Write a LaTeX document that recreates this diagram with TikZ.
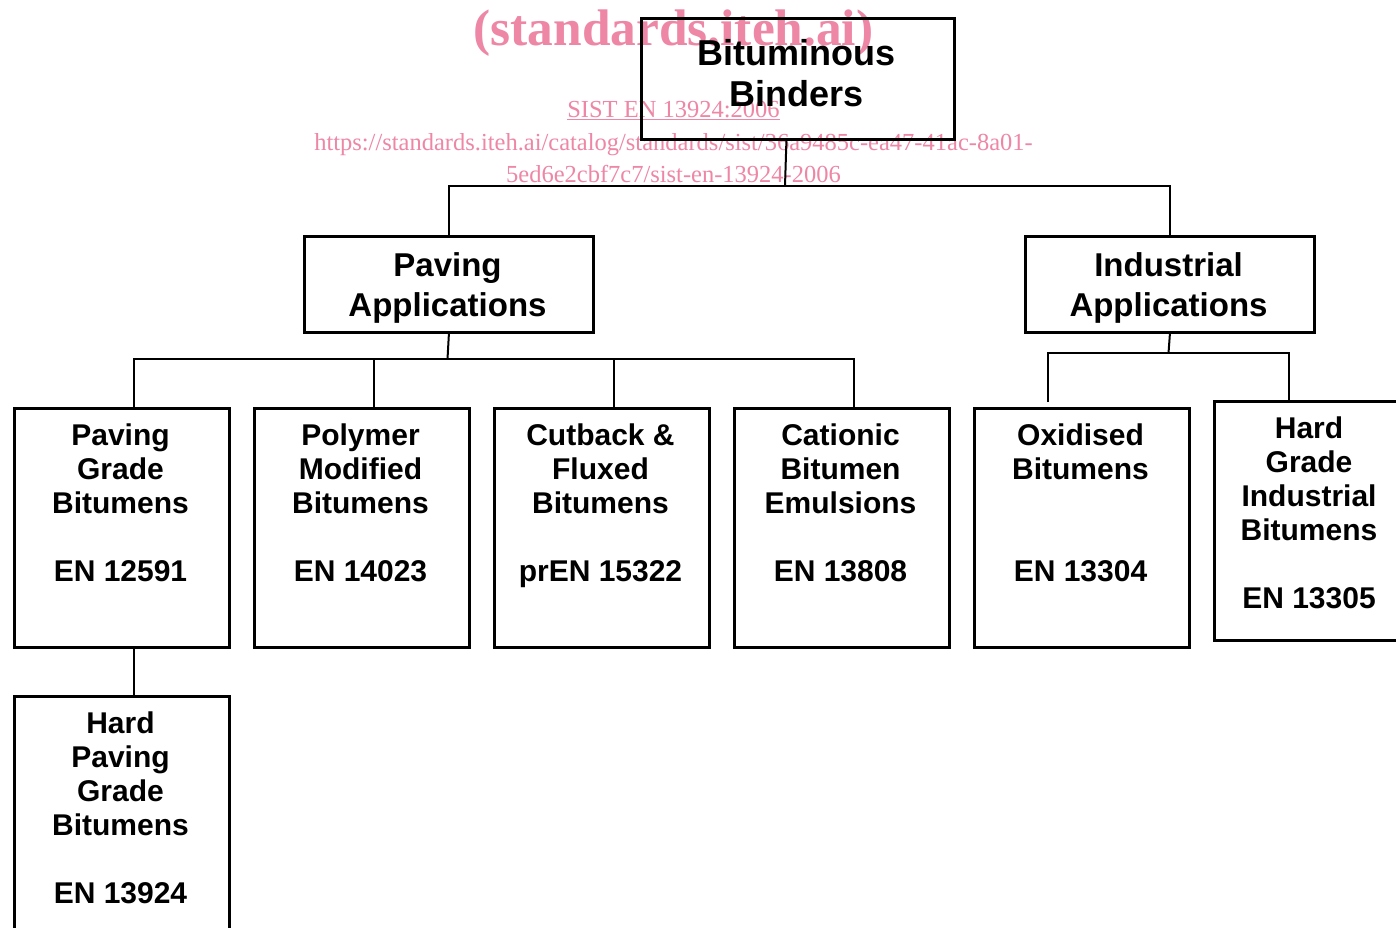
\documentclass[tikz,border=0pt]{standalone}
\usepackage{fontspec}
\usepackage{graphicx}
\setmainfont{Liberation Sans}
\newfontfamily\wmfont{Liberation Serif}
\usetikzlibrary{positioning}
\definecolor{wmpink}{RGB}{238,134,166}
\newcommand{\boxrows}[2]{\scalebox{#1}[1]{\begin{tabular}[t]{@{}c@{}}#2\end{tabular}}}

\begin{document}
\begin{tikzpicture}[x=1pt, y=-1pt,
    binbox/.style={draw, line width=2.8pt, inner sep=0pt, anchor=north west},
    wire/.style={draw, line width=2pt},
    headtext/.style={inner sep=0pt, anchor=base, font=\fontsize{36}{41}\selectfont\bfseries},
    apptext/.style={inner sep=0pt, anchor=base, font=\fontsize{33}{39.5}\selectfont\bfseries},
    leaftext/.style={inner sep=0pt, anchor=base, font=\fontsize{30}{34}\selectfont\bfseries},
    wmark/.style={inner sep=0pt, anchor=base, text=wmpink}]
    \useasboundingbox (0,0) rectangle (1396,927);
    \clip (0,0) rectangle (1396,927);
    \fill[white] (0,0) rectangle (1396,927);

    % Watermark
    \node[wmark, font=\wmfont\bfseries\fontsize{51.4}{60}\selectfont] (wm-title) at (673.5,45) {(standards.iteh.ai)};
    \node[wmark, font=\wmfont\fontsize{24.5}{30}\selectfont] (wm-code) at (673.5,117) {\underline{SIST EN 13924:2006}};
    \node[wmark, font=\wmfont\fontsize{24.5}{30}\selectfont] (wm-url1) at (673.5,150) {https://standards.iteh.ai/catalog/standards/sist/36a9485c-ea47-41ac-8a01-};
    \node[wmark, font=\wmfont\fontsize{24.5}{30}\selectfont] (wm-url2) at (673.5,182) {5ed6e2cbf7c7/sist-en-13924-2006};

    % Boxes
    \node[binbox, minimum width=313pt, minimum height=121pt] (bind) at (640,17) {};
    \node[binbox, minimum width=289pt, minimum height=96pt] (pave) at (303,235) {};
    \node[binbox, minimum width=289pt, minimum height=96pt] (indu) at (1024,235) {};
    \node[binbox, minimum width=215pt, minimum height=239pt] (pgb) at (13,407) {};
    \node[binbox, minimum width=215pt, minimum height=239pt] (pmb) at (253,407) {};
    \node[binbox, minimum width=215pt, minimum height=239pt] (cfb) at (493,407) {};
    \node[binbox, minimum width=215pt, minimum height=239pt] (cbe) at (733,407) {};
    \node[binbox, minimum width=215pt, minimum height=239pt] (oxb) at (973,407) {};
    \node[binbox, minimum width=215pt, minimum height=239pt] (hib) at (1213,400) {};
    \node[binbox, minimum width=215pt, minimum height=260pt] (hpb) at (13,695) {};

    % Box texts
    \node[headtext] (bind-t) at (796.5,65) {\boxrows{1}{Bituminous\\Binders}};
    \node[apptext] (pave-t) at (447.5,276.7) {\boxrows{1}{Paving\\Applications}};
    \node[apptext] (indu-t) at (1168.5,276.7) {\boxrows{1}{Industrial\\Applications}};
    \node[leaftext] (pgb-t) at (120.5,445) {\boxrows{1}{Paving\\Grade\\Bitumens\\ \\EN 12591}};
    \node[leaftext] (pmb-t) at (360.5,445) {\boxrows{1}{Polymer\\Modified\\Bitumens\\ \\EN 14023}};
    \node[leaftext] (cfb-t) at (600.5,445) {\boxrows{1}{Cutback \&\\Fluxed\\Bitumens\\ \\prEN 15322}};
    \node[leaftext] (cbe-t) at (840.5,445) {\boxrows{1}{Cationic\\Bitumen\\Emulsions\\ \\EN 13808}};
    \node[leaftext] (oxb-t) at (1080.5,445) {\boxrows{1}{Oxidised\\Bitumens\\ \\ \\EN 13304}};
    \node[leaftext] (hib-t) at (1309,438) {\boxrows{1}{Hard\\Grade\\Industrial\\Bitumens\\ \\EN 13305}};
    \node[leaftext] (hpb-t) at (120.5,733) {\boxrows{1}{Hard\\Paving\\Grade\\Bitumens\\ \\EN 13924}};

    % Connectors
    \coordinate (jtop) at (785,186);
    \coordinate (jpav) at (447.5,359);
    \coordinate (jind) at (1168.5,353);
    \coordinate (oxb-in) at (1048,402);
    \coordinate (hib-in) at (1289,402);
    \draw[wire] ([xshift=-11.5pt]bind.south) -- (jtop);
    \draw[wire] (pave.north) |- (jtop);
    \draw[wire] (indu.north) |- (jtop);
    \draw[wire] (pave.south) -- (jpav);
    \foreach \b in {pgb,pmb,cfb,cbe}
        \draw[wire] ([xshift=12.5pt]\b.north) |- (jpav);
    \draw[wire] (indu.south) -- (jind);
    \draw[wire] (oxb-in) |- (jind);
    \draw[wire] (hib-in) |- (jind);
    \draw[wire] ([xshift=12.5pt]pgb.south) -- ([xshift=12.5pt]hpb.north);
\end{tikzpicture}
\end{document}
